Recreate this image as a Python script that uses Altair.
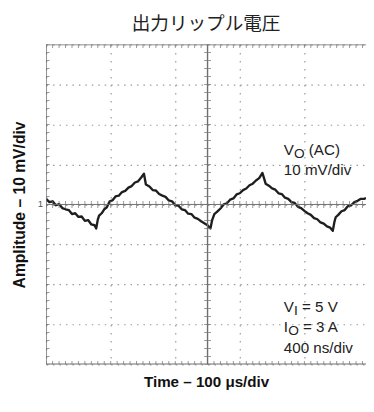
import altair as alt
import pandas as pd
import numpy as np

# ---- data (oscilloscope divisions: x 0..10, y -4..4) ----
t_div = [0.00, 0.10, 0.20, 0.30, 0.40, 0.50, 0.60, 0.70, 0.80, 0.90, 1.00, 1.10, 1.20,
         1.30, 1.40, 1.50, 1.55, 1.60, 1.64, 1.72, 1.80, 1.88, 1.97, 2.05, 2.15, 2.25,
         2.35, 2.45, 2.55, 2.65, 2.75, 2.85, 2.95, 3.03, 3.09, 3.20, 3.30, 3.40, 3.50,
         3.60, 3.70, 3.80, 3.90, 4.00, 4.10, 4.20, 4.30, 4.40, 4.50, 4.60, 4.70, 4.80,
         4.90, 5.00, 5.09, 5.14, 5.21, 5.30, 5.40, 5.50, 5.60, 5.70, 5.80, 5.90, 6.00,
         6.10, 6.20, 6.30, 6.40, 6.50, 6.60, 6.70, 6.80, 6.90, 7.00, 7.10, 7.20, 7.30,
         7.40, 7.50, 7.60, 7.70, 7.80, 7.90, 8.00, 8.10, 8.20, 8.30, 8.40, 8.50, 8.60,
         8.70, 8.80, 8.88, 8.93, 8.97, 9.05, 9.15, 9.25, 9.35, 9.45, 9.55, 9.65, 9.75,
         9.85, 9.91]
v_div = [0.14, 0.06, 0.08, -0.02, 0.01, -0.09, -0.12, -0.14, -0.24, -0.22, -0.31, -0.30,
         -0.41, -0.39, -0.50, -0.52, -0.60, -0.38, -0.28, -0.22, -0.12, -0.07, 0.08, 0.10,
         0.20, 0.22, 0.31, 0.34, 0.42, 0.46, 0.55, 0.58, 0.68, 0.77, 0.50, 0.45, 0.36,
         0.35, 0.26, 0.22, 0.19, 0.10, 0.08, -0.02, -0.03, -0.12, -0.14, -0.23, -0.24,
         -0.33, -0.36, -0.42, -0.47, -0.52, -0.60, -0.40, -0.24, -0.18, -0.10, 0.00, 0.03,
         0.12, 0.15, 0.25, 0.28, 0.36, 0.40, 0.48, 0.52, 0.60, 0.66, 0.79, 0.52, 0.47,
         0.40, 0.37, 0.28, 0.26, 0.17, 0.14, 0.06, 0.04, -0.06, -0.09, -0.16, -0.22, -0.26,
         -0.34, -0.37, -0.45, -0.48, -0.55, -0.58, -0.66, -0.44, -0.32, -0.26, -0.17,
         -0.14, -0.04, -0.02, 0.06, 0.09, 0.14, 0.14, 0.16]

title_text = "出力リップル電圧"
x_title = "Time – 100 μs/div"
y_title = "Amplitude – 10 mV/div"
note_lines = ["V", "10 mV/div", "V", "I", "400 ns/div"]
note_subs = ["O", "I", "O"]
note_rest = ["(AC)", "= 5 V", "= 3 A"]

# ---- layout ----
W, H = 327, 327
XMAX = W / 33.0
LAT = "Liberation Sans"
CJK = "Noto Sans CJK JP"
GRID = "#9a9a9a"
FRAME = "#6e6e6e"
INK = "#1e1e1e"
TXT = "#222"

xs = alt.Scale(domain=[0, XMAX], nice=False, zero=False)
ys = alt.Scale(domain=[-4, 4], nice=False, zero=False)

wave = pd.DataFrame({"t": t_div, "v": v_div})

x_axis = alt.Axis(title=x_title, values=list(range(0, 10)), grid=True, labels=False,
                  ticks=False, domain=False, gridDash=[1.5, 6.68], gridColor=GRID,
                  gridWidth=1.2, titleFont=LAT, titleFontSize=15.5, titleFontWeight="bold",
                  titleColor="#111", titlePadding=11)
y_axis = alt.Axis(title=y_title, values=list(range(-4, 5)), grid=True, labels=False,
                  ticks=False, domain=False, gridDash=[1.5, 5.1], gridColor=GRID,
                  gridWidth=1.2, titleFont=LAT, titleFontSize=16, titleFontWeight="bold",
                  titleColor="#111", titlePadding=19)

line = alt.Chart(wave).mark_line(color=INK, strokeWidth=2.4, clip=True,
                                 strokeJoin="round").encode(
    x=alt.X("t:Q", scale=xs, axis=x_axis),
    y=alt.Y("v:Q", scale=ys, axis=y_axis),
)

# frame (top, bottom, left) and centre cross
hrules = pd.DataFrame({"x1": [0, 0, 0], "x2": [XMAX, XMAX, XMAX], "y": [4, -4, 0],
                       "w": [1.6, 1.6, 1.0]})
vrules = pd.DataFrame({"x": [0, 5], "y1": [-4, -4], "y2": [4, 4]})

hr = alt.Chart(hrules).mark_rule(color=FRAME, clip=True).encode(
    x=alt.X("x1:Q", scale=xs), x2="x2:Q", y=alt.Y("y:Q", scale=ys),
    strokeWidth=alt.StrokeWidth("w:Q", scale=None))
vr = alt.Chart(vrules).mark_rule(color=FRAME, clip=True).encode(
    x=alt.X("x:Q", scale=xs), y=alt.Y("y1:Q", scale=ys), y2="y2:Q",
    strokeWidth=alt.value(1.4))

minor_x = np.round(np.arange(0, 9.95, 0.2), 2)
minor_y = np.round(np.arange(-4, 4.01, 0.2), 2)
tx = pd.DataFrame({"x": np.concatenate([minor_x] * 3),
                   "y": np.repeat([4, -4, 0], len(minor_x))})
ty = pd.DataFrame({"x": np.repeat([0, 5], len(minor_y)),
                   "y": np.concatenate([minor_y] * 2)})

tick_x = alt.Chart(tx).mark_tick(orient="vertical", size=7, thickness=1, color=FRAME,
                                 clip=True).encode(
    x=alt.X("x:Q", scale=xs), y=alt.Y("y:Q", scale=ys))
tick_y = alt.Chart(ty).mark_tick(orient="horizontal", size=7, thickness=1, color=FRAME,
                                 clip=True).encode(
    x=alt.X("x:Q", scale=xs), y=alt.Y("y:Q", scale=ys))

# channel marker
marker = alt.Chart(pd.DataFrame({"x": [0], "y": [0], "s": ["1"]})).mark_text(
    align="right", baseline="middle", dx=-3, font=LAT, fontSize=10, color="#555").encode(
    x=alt.X("x:Q", scale=xs), y=alt.Y("y:Q", scale=ys), text="s:N")

# annotations (anchor positions in divisions)
ax0 = (290 - 47) / 33.0
line_y = [1.24, 0.74, -2.69, -3.18, -3.72]
main_txt = pd.DataFrame({"x": [ax0] * 5, "y": line_y, "s": note_lines})
sub_y = [line_y[0], line_y[2], line_y[3]]
sub_dx = [10.3, 10.3, 4.4]
rest_dx = [25.5, 18.5, 19.5]

t_main = alt.Chart(main_txt).mark_text(align="left", baseline="alphabetic", font=LAT,
                                       fontSize=15.5, color=TXT).encode(
    x=alt.X("x:Q", scale=xs), y=alt.Y("y:Q", scale=ys), text="s:N")

layers = [line, hr, vr, tick_x, tick_y, marker, t_main]
for i in range(3):
    r = pd.DataFrame({"x": [ax0], "y": [sub_y[i]], "s": [note_subs[i]]})
    layers.append(alt.Chart(r).mark_text(align="left", baseline="alphabetic", font=LAT,
                                         fontSize=14, color=TXT, dx=sub_dx[i],
                                         dy=3.5).encode(
        x=alt.X("x:Q", scale=xs), y=alt.Y("y:Q", scale=ys), text="s:N"))
    r2 = pd.DataFrame({"x": [ax0], "y": [sub_y[i]], "s": [note_rest[i]]})
    layers.append(alt.Chart(r2).mark_text(align="left", baseline="alphabetic", font=LAT,
                                          fontSize=15.5, color=TXT,
                                          dx=rest_dx[i]).encode(
        x=alt.X("x:Q", scale=xs), y=alt.Y("y:Q", scale=ys), text="s:N"))

chart = alt.layer(*layers).properties(
    width=W, height=H,
    title=alt.TitleParams(title_text, font=CJK, fontSize=19, fontWeight="normal",
                          color="#222", anchor="middle", offset=11),
    autosize=alt.AutoSizeParams(type="none"),
    padding={"left": 39, "top": 33, "right": 0, "bottom": 30},
).configure_view(strokeWidth=0)

chart.save("out.html", embed_options={"renderer": "svg", "actions": False})
